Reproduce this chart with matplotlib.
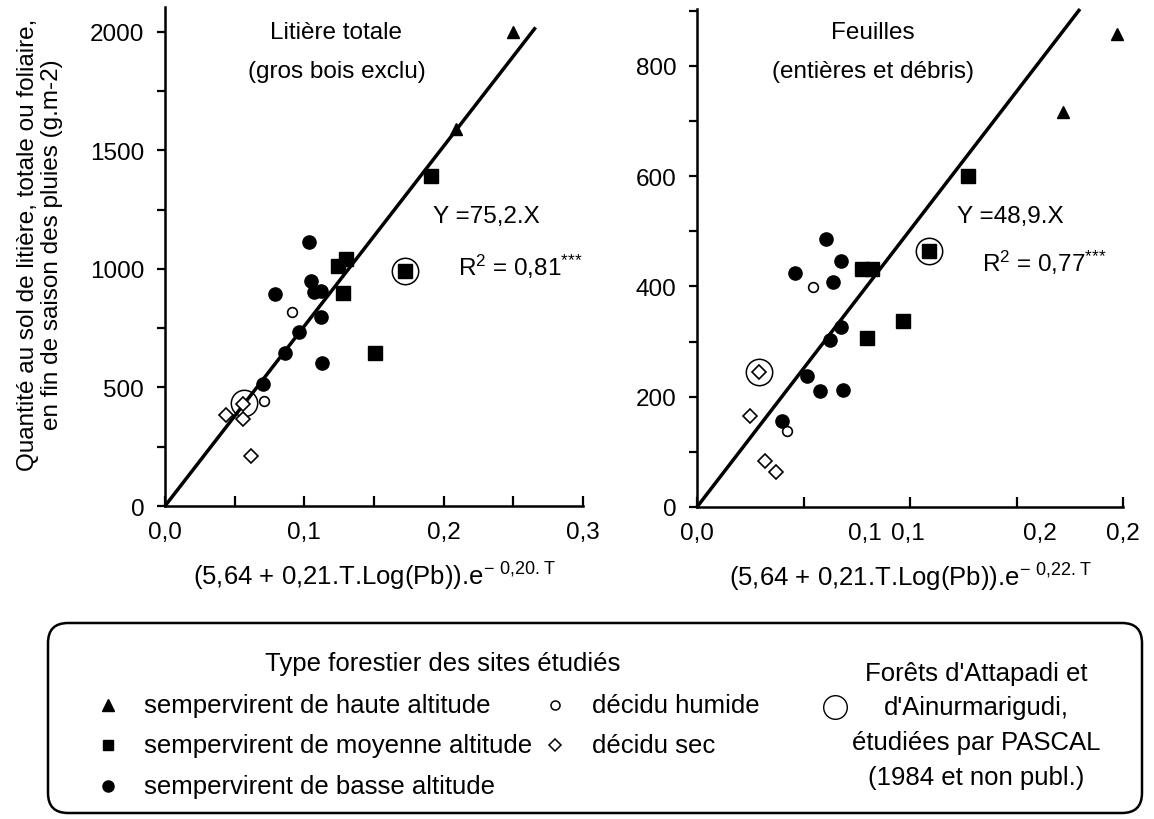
import matplotlib
matplotlib.use("Agg")
import matplotlib.pyplot as plt
from matplotlib.patches import FancyBboxPatch
from matplotlib.ticker import MultipleLocator

plt.rcParams['font.family'] = ['Liberation Sans', 'DejaVu Sans']
plt.rcParams['mathtext.fontset'] = 'custom'
plt.rcParams['mathtext.rm'] = 'Liberation Sans'
plt.rcParams['mathtext.default'] = 'regular'

# ---------------- data: left panel (Litière totale) ----------------
lit_haute_x = [0.250, 0.209]
lit_haute_y = [2000, 1590]
lit_moy_x = [0.191, 0.172, 0.124, 0.130, 0.128, 0.151]
lit_moy_y = [1392, 991, 1013, 1042, 899, 646]
lit_basse_x = [0.103, 0.105, 0.079, 0.107, 0.112, 0.112, 0.096, 0.086, 0.113, 0.070]
lit_basse_y = [1114, 949, 894, 903, 907, 797, 734, 646, 603, 515]
lit_hum_x = [0.091, 0.071]
lit_hum_y = [818, 443]
lit_sec_x = [0.056, 0.044, 0.056, 0.062]
lit_sec_y = [430, 384, 367, 211]
lit_pascal_x = [0.172, 0.057]
lit_pascal_y = [991, 433]
lit_slope = 7590
lit_line_xmax = 0.266

# ---------------- data: right panel (Feuilles) ----------------
feu_haute_x = [0.197, 0.172]
feu_haute_y = [858, 717]
feu_moy_x = [0.127, 0.109, 0.0775, 0.0822, 0.0967, 0.0798]
feu_moy_y = [600, 464, 432, 432, 337, 307]
feu_basse_x = [0.0606, 0.0676, 0.046, 0.0638, 0.0676, 0.0624, 0.0516, 0.0577, 0.0685, 0.0399]
feu_basse_y = [486, 446, 424, 408, 327, 303, 238, 210, 212, 156]
feu_hum_x = [0.0545, 0.0423]
feu_hum_y = [399, 138]
feu_sec_x = [0.0291, 0.0249, 0.0319, 0.0371]
feu_sec_y = [245, 165, 83, 63]
feu_pascal_x = [0.109, 0.0291]
feu_pascal_y = [464, 245]
feu_slope = 5022
feu_line_xmax = 0.1798

lit_xticklabels = ['0,0', '0,1', '0,2', '0,3']
lit_xtick_pos = [0.0, 0.1, 0.2, 0.3]
feu_xticklabels = ['0,0', '0,1', '0,1', '0,2', '0,2']
feu_xtick_pos = [0.0, 0.079, 0.099, 0.161, 0.2]

legend_types = ['sempervirent de haute altitude', 'sempervirent de moyenne altitude',
                'sempervirent de basse altitude']
legend_decid = ['décidu humide', 'décidu sec']
legend_pascal = ["Forêts d'Attapadi et", "d'Ainurmarigudi,", 'étudiées par PASCAL',
                 '(1984 et non publ.)']

W, H = 1154, 820
fig = plt.figure(figsize=(W / 100, H / 100), dpi=100)

FS = 17.5
XFS = 18.5
LFS = 18.5


def px_axes(x0, y0, x1, y1):
    return fig.add_axes([x0 / W, 1 - y1 / H, (x1 - x0) / W, (y1 - y0) / H])


def style(ax):
    for s in ['top', 'right']:
        ax.spines[s].set_visible(False)
    for s in ['left', 'bottom']:
        ax.spines[s].set_linewidth(1.8)
    ax.tick_params(axis='y', which='both', direction='out', width=1.6, labelsize=FS, pad=9)
    ax.tick_params(axis='y', which='major', length=6)
    ax.tick_params(axis='y', which='minor', length=6)
    ax.tick_params(axis='x', which='major', direction='in', length=7, width=1.6, labelsize=FS)
    ax.tick_params(axis='x', which='minor', direction='in', length=0, labelsize=FS, pad=11)
    ax.xaxis.remove_overlapping_locs = False
    ax.set_facecolor('none')


def draw(ax, d):
    ax.plot([0, d['xmax']], [0, d['slope'] * d['xmax']], color='black', lw=2.5, zorder=2,
            solid_capstyle='butt', clip_on=False)
    kw = dict(linestyle='none', clip_on=False)
    ax.plot(d['hx'], d['hy'], marker='^', ms=9, color='black', zorder=3, **kw)
    ax.plot(d['mx'], d['my'], marker='s', ms=10, color='black', zorder=3, **kw)
    ax.plot(d['bx'], d['by'], marker='o', ms=9.5, color='black', zorder=3, **kw)
    ax.plot(d['ux'], d['uy'], marker='o', ms=7, mfc='white', mec='black', mew=1.2, zorder=3, **kw)
    ax.plot(d['sx'], d['sy'], marker='D', ms=7.5, mfc='white', mec='black', mew=1.2, zorder=4, **kw)
    ax.plot(d['px'], d['py'], marker='o', ms=19, mfc='none', mec='black', mew=1.1, zorder=3, **kw)


# ---- left panel ----
axL = px_axes(165, 8, 583, 507)
axL.set_xlim(0, 0.3)
axL.set_ylim(0, 2105)
style(axL)
draw(axL, dict(xmax=lit_line_xmax, slope=lit_slope, hx=lit_haute_x, hy=lit_haute_y,
               mx=lit_moy_x, my=lit_moy_y, bx=lit_basse_x, by=lit_basse_y,
               ux=lit_hum_x, uy=lit_hum_y, sx=lit_sec_x, sy=lit_sec_y,
               px=lit_pascal_x, py=lit_pascal_y))
axL.set_xticks([0, 0.05, 0.1, 0.15, 0.2, 0.25, 0.3], labels=[''] * 7)
axL.set_xticks(lit_xtick_pos, labels=lit_xticklabels, minor=True)
axL.set_yticks([0, 500, 1000, 1500, 2000])
axL.yaxis.set_minor_locator(MultipleLocator(250))
axL.text(0.41, 0.95, 'Litière totale', transform=axL.transAxes, ha='center', va='center', fontsize=FS)
axL.text(0.41, 0.872, '(gros bois exclu)', transform=axL.transAxes, ha='center', va='center', fontsize=FS)
axL.text(0.641, 0.581, 'Y =75,2.X', transform=axL.transAxes, ha='left', va='center', fontsize=FS)
axL.text(0.70, 0.481, r'R$^{2}$ = 0,81$^{{*}{*}{*}}$', transform=axL.transAxes, ha='left',
         va='center', fontsize=FS)
axL.set_xlabel(r'(5,64 + 0,21.T.Log(Pb)).e$^{-\ 0{,}20.T}$', fontsize=XFS, labelpad=12)

# y label (two lines, rotated)
fig.text(40 / W, 1 - 245 / H,
         'Quantité au sol de litière, totale ou foliaire,\nen fin de saison des pluies (g.m-2)',
         rotation=90, ha='center', va='center', fontsize=FS, linespacing=1.15)

# ---- right panel ----
axR = px_axes(697, 10, 1123, 508)
axR.set_xlim(0, 0.2)
axR.set_ylim(0, 903)
style(axR)
draw(axR, dict(xmax=feu_line_xmax, slope=feu_slope, hx=feu_haute_x, hy=feu_haute_y,
               mx=feu_moy_x, my=feu_moy_y, bx=feu_basse_x, by=feu_basse_y,
               ux=feu_hum_x, uy=feu_hum_y, sx=feu_sec_x, sy=feu_sec_y,
               px=feu_pascal_x, py=feu_pascal_y))
axR.set_xticks([0, 0.05, 0.1, 0.15, 0.2], labels=[''] * 5)
axR.set_xticks(feu_xtick_pos, labels=feu_xticklabels, minor=True)
axR.set_yticks([0, 200, 400, 600, 800])
axR.yaxis.set_minor_locator(MultipleLocator(100))
axR.text(0.413, 0.954, 'Feuilles', transform=axR.transAxes, ha='center', va='center', fontsize=FS)
axR.text(0.413, 0.875, '(entières et débris)', transform=axR.transAxes, ha='center', va='center', fontsize=FS)
axR.text(0.610, 0.584, 'Y =48,9.X', transform=axR.transAxes, ha='left', va='center', fontsize=FS)
axR.text(0.669, 0.492, r'R$^{2}$ = 0,77$^{{*}{*}{*}}$', transform=axR.transAxes, ha='left',
         va='center', fontsize=FS)
axR.set_xlabel(r'(5,64 + 0,21.T.Log(Pb)).e$^{-\ 0{,}22.T}$', fontsize=XFS, labelpad=12)

# ---- legend box (figure pixel coordinates) ----
lg = fig.add_axes([0, 0, 1, 1])
lg.set_xlim(0, W)
lg.set_ylim(H, 0)
lg.axis('off')
lg.set_zorder(-1)
box = FancyBboxPatch((48, 624), 1094, 190, boxstyle='round,pad=0,rounding_size=20',
                     fc='none', ec='black', lw=1.8)
lg.add_patch(box)
lg.text(443, 664, 'Type forestier des sites étudiés', ha='center', va='center', fontsize=LFS)
rows = [706, 746, 787]
lg.plot([108], [rows[0]], marker='^', ms=8, color='black', linestyle='none')
lg.plot([108], [rows[1]], marker='s', ms=7.5, color='black', linestyle='none')
lg.plot([108], [rows[2]], marker='o', ms=8, color='black', linestyle='none')
for t, y in zip(legend_types, rows):
    lg.text(144, y, t, ha='left', va='center', fontsize=LFS)
lg.plot([555], [rows[0]], marker='o', ms=6.5, mfc='white', mec='black', mew=1.1, linestyle='none')
lg.plot([555], [rows[1]], marker='D', ms=6.5, mfc='white', mec='black', mew=1.1, linestyle='none')
for t, y in zip(legend_decid, rows[:2]):
    lg.text(592, y, t, ha='left', va='center', fontsize=LFS)
lg.plot([835], [708], marker='o', ms=17, mfc='none', mec='black', mew=1.0, linestyle='none')
for t, y in zip(legend_pascal, [674, 708, 743, 778]):
    lg.text(976, y, t, ha='center', va='center', fontsize=LFS)

fig.savefig('out.png', dpi=100)
